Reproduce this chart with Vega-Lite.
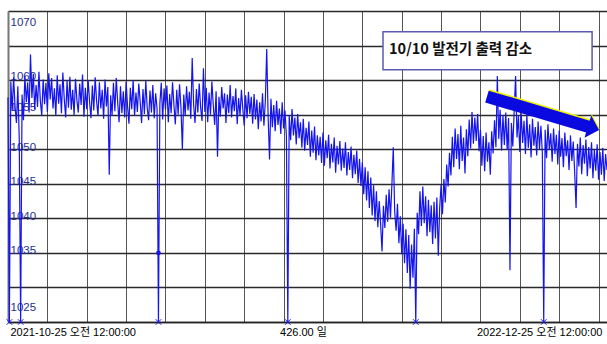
{
  "$schema": "https://vega.github.io/schema/vega-lite/v6.json",
  "width": 599,
  "height": 311,
  "autosize": {"type": "none"},
  "padding": {"left": 8, "top": 11, "right": 0, "bottom": 22},
  "background": "white",
  "config": {"view": {"stroke": null}},
  "datasets": {
    "series": [
      {"d":0,"v":1057.5},{"d":1,"v":1025},{"d":2,"v":1059.8},{"d":3,"v":1055.6},{"d":4,"v":1060.4},{"d":5,"v":1056.2},{"d":6,"v":1053.8},{"d":7,"v":1059.1},{"d":8,"v":1051.5},{"d":9,"v":1025},
      {"d":10,"v":1057.9},{"d":11,"v":1054.2},{"d":12,"v":1060.6},{"d":13,"v":1056.8},{"d":14,"v":1059.7},{"d":15,"v":1055.3},{"d":16,"v":1063.7},{"d":17,"v":1057.4},{"d":18,"v":1060.9},{"d":19,"v":1055.8},
      {"d":20,"v":1059.3},{"d":21,"v":1056.1},{"d":22,"v":1061.2},{"d":23,"v":1057.0},{"d":24,"v":1054.9},{"d":25,"v":1060.1},{"d":26,"v":1056.5},{"d":27,"v":1059.6},{"d":28,"v":1055.4},{"d":29,"v":1061.0},
      {"d":30,"v":1057.2},{"d":31,"v":1060.3},{"d":32,"v":1055.9},{"d":33,"v":1058.8},{"d":34,"v":1054.8},{"d":35,"v":1060.7},{"d":36,"v":1056.6},{"d":37,"v":1059.4},{"d":38,"v":1055.2},{"d":39,"v":1061.1},
      {"d":40,"v":1057.3},{"d":41,"v":1054.6},{"d":42,"v":1059.9},{"d":43,"v":1056.0},{"d":44,"v":1060.5},{"d":45,"v":1055.7},{"d":46,"v":1058.6},{"d":47,"v":1054.9},{"d":48,"v":1060.2},{"d":49,"v":1057.1},
      {"d":50,"v":1055.3},{"d":51,"v":1059.5},{"d":52,"v":1056.4},{"d":53,"v":1060.8},{"d":54,"v":1054.7},{"d":55,"v":1058.9},{"d":56,"v":1055.8},{"d":57,"v":1060.0},{"d":58,"v":1056.9},{"d":59,"v":1054.5},
      {"d":60,"v":1059.2},{"d":61,"v":1055.6},{"d":62,"v":1060.4},{"d":63,"v":1057.0},{"d":64,"v":1054.8},{"d":65,"v":1059.7},{"d":66,"v":1055.9},{"d":67,"v":1058.6},{"d":68,"v":1054.4},{"d":69,"v":1060.1},
      {"d":70,"v":1056.2},{"d":71,"v":1059.0},{"d":72,"v":1046.3},{"d":73,"v":1057.8},{"d":74,"v":1054.9},{"d":75,"v":1059.6},{"d":76,"v":1055.5},{"d":77,"v":1060.3},{"d":78,"v":1056.8},{"d":79,"v":1053.9},
      {"d":80,"v":1059.1},{"d":81,"v":1055.2},{"d":82,"v":1058.4},{"d":83,"v":1054.6},{"d":84,"v":1059.8},{"d":85,"v":1056.3},{"d":86,"v":1053.7},{"d":87,"v":1058.9},{"d":88,"v":1055.8},{"d":89,"v":1060.0},
      {"d":90,"v":1054.8},{"d":91,"v":1058.2},{"d":92,"v":1055.4},{"d":93,"v":1059.5},{"d":94,"v":1056.9},{"d":95,"v":1053.8},{"d":96,"v":1058.7},{"d":97,"v":1055.1},{"d":98,"v":1059.9},{"d":99,"v":1056.0},
      {"d":100,"v":1054.2},{"d":101,"v":1058.5},{"d":102,"v":1055.3},{"d":103,"v":1059.3},{"d":104,"v":1054.5},{"d":105,"v":1058.1},{"d":106,"v":1055.9},{"d":107,"v":1025},{"d":108,"v":1056.6},{"d":109,"v":1059.6},
      {"d":110,"v":1054.3},{"d":111,"v":1058.8},{"d":112,"v":1055.7},{"d":113,"v":1059.2},{"d":114,"v":1053.9},{"d":115,"v":1058.0},{"d":116,"v":1055.2},{"d":117,"v":1059.7},{"d":118,"v":1056.4},{"d":119,"v":1053.6},
      {"d":120,"v":1058.6},{"d":121,"v":1055.0},{"d":122,"v":1059.4},{"d":123,"v":1056.1},{"d":124,"v":1050.0},{"d":125,"v":1057.9},{"d":126,"v":1054.8},{"d":127,"v":1059.1},{"d":128,"v":1055.6},{"d":129,"v":1058.3},
      {"d":130,"v":1054.4},{"d":131,"v":1063.2},{"d":132,"v":1056.5},{"d":133,"v":1053.8},{"d":134,"v":1058.7},{"d":135,"v":1055.3},{"d":136,"v":1059.5},{"d":137,"v":1056.0},{"d":138,"v":1054.1},{"d":139,"v":1061.7},
      {"d":140,"v":1055.4},{"d":141,"v":1058.9},{"d":142,"v":1053.9},{"d":143,"v":1058.2},{"d":144,"v":1055.0},{"d":145,"v":1059.8},{"d":146,"v":1056.3},{"d":147,"v":1053.5},{"d":148,"v":1058.4},{"d":149,"v":1048.9},
      {"d":150,"v":1057.6},{"d":151,"v":1054.7},{"d":152,"v":1059.0},{"d":153,"v":1055.9},{"d":154,"v":1058.1},{"d":155,"v":1053.8},{"d":156,"v":1057.9},{"d":157,"v":1055.2},{"d":158,"v":1059.3},{"d":159,"v":1054.6},
      {"d":160,"v":1057.7},{"d":161,"v":1055.5},{"d":162,"v":1058.8},{"d":163,"v":1053.6},{"d":164,"v":1057.4},{"d":165,"v":1054.9},{"d":166,"v":1058.6},{"d":167,"v":1055.8},{"d":168,"v":1053.4},{"d":169,"v":1057.8},
      {"d":170,"v":1054.5},{"d":171,"v":1058.3},{"d":172,"v":1055.1},{"d":173,"v":1057.6},{"d":174,"v":1053.7},{"d":175,"v":1058.0},{"d":176,"v":1054.3},{"d":177,"v":1057.2},{"d":178,"v":1052.9},{"d":179,"v":1056.8},
      {"d":180,"v":1054.0},{"d":181,"v":1058.1},{"d":182,"v":1053.4},{"d":183,"v":1056.9},{"d":184,"v":1064.5},{"d":185,"v":1054.7},{"d":186,"v":1048.5},{"d":187,"v":1057.3},{"d":188,"v":1053.2},{"d":189,"v":1056.4},
      {"d":190,"v":1052.6},{"d":191,"v":1057.0},{"d":192,"v":1053.5},{"d":193,"v":1055.9},{"d":194,"v":1052.2},{"d":195,"v":1056.8},{"d":196,"v":1053.0},{"d":197,"v":1055.6},{"d":198,"v":1051.8},{"d":199,"v":1025},
      {"d":200,"v":1054.9},{"d":201,"v":1051.3},{"d":202,"v":1055.8},{"d":203,"v":1052.0},{"d":204,"v":1054.6},{"d":205,"v":1050.7},{"d":206,"v":1055.1},{"d":207,"v":1051.6},{"d":208,"v":1053.9},{"d":209,"v":1050.2},
      {"d":210,"v":1054.4},{"d":211,"v":1049.8},{"d":212,"v":1053.1},{"d":213,"v":1050.6},{"d":214,"v":1054.0},{"d":215,"v":1048.9},{"d":216,"v":1052.7},{"d":217,"v":1049.5},{"d":218,"v":1053.3},{"d":219,"v":1048.4},
      {"d":220,"v":1052.0},{"d":221,"v":1049.1},{"d":222,"v":1051.8},{"d":223,"v":1048.0},{"d":224,"v":1052.4},{"d":225,"v":1047.6},{"d":226,"v":1051.3},{"d":227,"v":1048.7},{"d":228,"v":1052.1},{"d":229,"v":1047.2},
      {"d":230,"v":1050.8},{"d":231,"v":1048.1},{"d":232,"v":1051.7},{"d":233,"v":1046.6},{"d":234,"v":1050.5},{"d":235,"v":1047.8},{"d":236,"v":1051.2},{"d":237,"v":1046.9},{"d":238,"v":1050.1},{"d":239,"v":1047.3},
      {"d":240,"v":1051.0},{"d":241,"v":1046.2},{"d":242,"v":1049.6},{"d":243,"v":1047.0},{"d":244,"v":1050.4},{"d":245,"v":1045.8},{"d":246,"v":1049.2},{"d":247,"v":1046.4},{"d":248,"v":1049.8},{"d":249,"v":1045.1},
      {"d":250,"v":1048.6},{"d":251,"v":1044.7},{"d":252,"v":1048.1},{"d":253,"v":1043.5},{"d":254,"v":1047.4},{"d":255,"v":1042.6},{"d":256,"v":1046.8},{"d":257,"v":1041.5},{"d":258,"v":1045.9},{"d":259,"v":1040.4},
      {"d":260,"v":1044.8},{"d":261,"v":1039.6},{"d":262,"v":1043.9},{"d":263,"v":1038.7},{"d":264,"v":1042.5},{"d":265,"v":1039.2},{"d":266,"v":1035.2},{"d":267,"v":1041.8},{"d":268,"v":1038.6},{"d":269,"v":1043.4},
      {"d":270,"v":1039.5},{"d":271,"v":1044.2},{"d":272,"v":1040.1},{"d":273,"v":1044.8},{"d":274,"v":1050.3},{"d":275,"v":1041.0},{"d":276,"v":1038.2},{"d":277,"v":1042.1},{"d":278,"v":1036.4},{"d":279,"v":1040.3},
      {"d":280,"v":1034.8},{"d":281,"v":1039.2},{"d":282,"v":1033.5},{"d":283,"v":1038.4},{"d":284,"v":1032.1},{"d":285,"v":1037.6},{"d":286,"v":1029.8},{"d":287,"v":1036.2},{"d":288,"v":1031.4},{"d":289,"v":1038.5},
      {"d":290,"v":1025},{"d":291,"v":1040.8},{"d":292,"v":1037.7},{"d":293,"v":1043.9},{"d":294,"v":1038.9},{"d":295,"v":1044.6},{"d":296,"v":1039.3},{"d":297,"v":1043.2},{"d":298,"v":1037.4},{"d":299,"v":1042.7},
      {"d":300,"v":1038.0},{"d":301,"v":1041.9},{"d":302,"v":1036.3},{"d":303,"v":1042.4},{"d":304,"v":1037.1},{"d":305,"v":1043.0},{"d":306,"v":1034.6},{"d":307,"v":1041.5},{"d":308,"v":1044.8},{"d":309,"v":1040.6},
      {"d":310,"v":1045.7},{"d":311,"v":1042.3},{"d":312,"v":1047.8},{"d":313,"v":1044.6},{"d":314,"v":1049.5},{"d":315,"v":1046.2},{"d":316,"v":1051.8},{"d":317,"v":1047.4},{"d":318,"v":1053.0},{"d":319,"v":1048.6},
      {"d":320,"v":1052.2},{"d":321,"v":1047.1},{"d":322,"v":1053.4},{"d":323,"v":1048.3},{"d":324,"v":1051.7},{"d":325,"v":1046.5},{"d":326,"v":1052.9},{"d":327,"v":1049.0},{"d":328,"v":1054.3},{"d":329,"v":1050.1},
      {"d":330,"v":1055.4},{"d":331,"v":1050.8},{"d":332,"v":1054.6},{"d":333,"v":1051.2},{"d":334,"v":1055.1},{"d":335,"v":1049.7},{"d":336,"v":1052.8},{"d":337,"v":1047.6},{"d":338,"v":1051.9},{"d":339,"v":1046.8},
      {"d":340,"v":1052.4},{"d":341,"v":1048.2},{"d":342,"v":1051.0},{"d":343,"v":1046.3},{"d":344,"v":1052.6},{"d":345,"v":1049.4},{"d":346,"v":1054.2},{"d":347,"v":1050.3},{"d":348,"v":1060.6},{"d":349,"v":1051.5},
      {"d":350,"v":1055.7},{"d":351,"v":1049.8},{"d":352,"v":1054.9},{"d":353,"v":1050.6},{"d":354,"v":1055.3},{"d":355,"v":1049.9},{"d":356,"v":1054.5},{"d":357,"v":1032.5},{"d":358,"v":1053.8},{"d":359,"v":1050.4},
      {"d":360,"v":1055.6},{"d":361,"v":1060.6},{"d":362,"v":1051.7},{"d":363,"v":1054.8},{"d":364,"v":1049.6},{"d":365,"v":1055.2},{"d":366,"v":1050.9},{"d":367,"v":1054.1},{"d":368,"v":1049.3},{"d":369,"v":1055.0},
      {"d":370,"v":1050.2},{"d":371,"v":1053.6},{"d":372,"v":1048.8},{"d":373,"v":1054.4},{"d":374,"v":1050.5},{"d":375,"v":1053.2},{"d":376,"v":1049.1},{"d":377,"v":1054.0},{"d":378,"v":1050.0},{"d":379,"v":1053.4},
      {"d":380,"v":1049.5},{"d":381,"v":1025},{"d":382,"v":1052.8},{"d":383,"v":1048.7},{"d":384,"v":1053.6},{"d":385,"v":1049.9},{"d":386,"v":1052.3},{"d":387,"v":1048.2},{"d":388,"v":1053.0},{"d":389,"v":1049.3},
      {"d":390,"v":1052.1},{"d":391,"v":1047.8},{"d":392,"v":1052.7},{"d":393,"v":1048.9},{"d":394,"v":1051.6},{"d":395,"v":1047.4},{"d":396,"v":1052.4},{"d":397,"v":1049.0},{"d":398,"v":1051.3},{"d":399,"v":1047.0},
      {"d":400,"v":1052.0},{"d":401,"v":1048.3},{"d":402,"v":1051.1},{"d":403,"v":1046.7},{"d":404,"v":1041.5},{"d":405,"v":1050.8},{"d":406,"v":1047.5},{"d":407,"v":1051.7},{"d":408,"v":1046.4},{"d":409,"v":1050.6},
      {"d":410,"v":1047.9},{"d":411,"v":1051.4},{"d":412,"v":1046.1},{"d":413,"v":1050.3},{"d":414,"v":1047.2},{"d":415,"v":1051.0},{"d":416,"v":1045.8},{"d":417,"v":1049.9},{"d":418,"v":1046.9},{"d":419,"v":1050.7},
      {"d":420,"v":1045.6},{"d":421,"v":1049.6},{"d":422,"v":1046.3},{"d":423,"v":1050.2},{"d":424,"v":1045.4},{"d":425,"v":1049.3},{"d":426,"v":1047.0}
    ],
    "xmarks": [
      {"d":1,"v":1025},{"d":9,"v":1025},{"d":107,"v":1025},{"d":199,"v":1025},{"d":290,"v":1025},{"d":381,"v":1025}
    ],
    "dots": [{"d":107,"v":1035}],
    "box": [{"d":266.7,"d2":415.4,"v":1067.0,"v2":1061.5}],
    "note": [{"d":271,"v":1064.3,"label":"10/10 발전기 출력 감소"}],
    "arrow": [{"d":380.5,"v":1055.2}]
  },
  "layer": [
    {
      "data": {"name": "series"},
      "mark": {"type": "line", "color": "#1414f0", "strokeWidth": 1.2, "interpolate": "linear"},
      "encoding": {
        "x": {
          "field": "d", "type": "quantitative",
          "scale": {"domain": [0, 426], "nice": false, "zero": false},
          "axis": {
            "title": null,
            "values": [0,28,56,84,112,140,168,196,224,252,280,308,336,364,392,420],
            "tickCount": 40,
            "grid": true, "gridColor": "#555555", "gridWidth": 1,
            "ticks": false,
            "domain": true, "domainColor": "#222222", "domainWidth": 1.5,
            "labelExpr": "datum.value == 0 ? '2021-10-25 오전 12:00:00' : datum.value == 196 ? '426.00 일' : datum.value == 336 ? '2022-12-25 오전 12:00:00' : ''",
            "labelAlign": "left",
            "labelFlush": false,
            "labelOverlap": false,
            "labelBound": false,
            "labelBaseline": "top",
            "labelPadding": 4,
            "labelOffset": {"condition": {"test": "datum.value == 0", "value": 2}, "value": -4},
            "labelFont": "Liberation Sans, Noto Sans CJK KR, sans-serif",
            "labelFontSize": 11,
            "labelColor": "#000000",
            "zindex": 0
          }
        },
        "y": {
          "field": "v", "type": "quantitative",
          "scale": {"domain": [1025, 1070], "nice": false, "zero": false},
          "axis": {
            "title": null,
            "values": [1025,1030,1035,1040,1045,1050,1055,1060,1065,1070],
            "tickCount": 40,
            "format": "d",
            "grid": true, "gridColor": "#2a2a2a", "gridWidth": 1.5,
            "ticks": false,
            "domain": true, "domainColor": "#777777", "domainWidth": 2,
            "labelExpr": "datum.value == 1065 || datum.value == 1030 ? '' : datum.label",
            "labelAlign": "left",
            "labelBaseline": "middle",
            "labelPadding": -2,
            "labelFlush": false,
            "labelOverlap": false,
            "labelBound": false,
            "labelOffset": {"condition": [
              {"test": "datum.value == 1070", "value": 11},
              {"test": "datum.value == 1025", "value": -15},
              {"test": "datum.value == 1055", "value": -7},
              {"test": "datum.value == 1060", "value": -4}
            ], "value": -2},
            "labelFont": "Liberation Sans, sans-serif",
            "labelFontSize": 11.5,
            "labelColor": "#1f2d8f",
            "zindex": 0
          }
        }
      }
    },
    {
      "data": {"name": "xmarks"},
      "mark": {"type": "point", "shape": "M-1,-1L1,1M-1,1L1,-1", "filled": false, "stroke": "#1414f0", "strokeWidth": 1, "size": 30, "opacity": 1},
      "encoding": {
        "x": {"field": "d", "type": "quantitative"},
        "y": {"field": "v", "type": "quantitative"}
      }
    },
    {
      "data": {"name": "dots"},
      "mark": {"type": "point", "shape": "circle", "filled": true, "color": "#1414f0", "size": 22, "opacity": 1},
      "encoding": {
        "x": {"field": "d", "type": "quantitative"},
        "y": {"field": "v", "type": "quantitative"}
      }
    },
    {
      "data": {"name": "box"},
      "mark": {"type": "rect", "fill": "white", "stroke": "#5a5ab0", "strokeWidth": 1.5},
      "encoding": {
        "x": {"field": "d", "type": "quantitative"},
        "x2": {"field": "d2"},
        "y": {"field": "v", "type": "quantitative"},
        "y2": {"field": "v2"}
      }
    },
    {
      "data": {"name": "note"},
      "mark": {"type": "text", "align": "left", "baseline": "middle", "font": "Noto Sans CJK KR", "fontWeight": "bold", "fontSize": 14.5, "color": "#111111"},
      "encoding": {
        "x": {"field": "d", "type": "quantitative"},
        "y": {"field": "v", "type": "quantitative"},
        "text": {"field": "label"}
      }
    },
    {
      "data": {"name": "arrow"},
      "mark": {"type": "point", "shape": "M-1,-0.106L0.8,-0.106L0.8,-0.2L1,0L0.8,0.2L0.8,0.106L-1,0.106Z", "filled": true, "fill": "#f2f200", "stroke": null, "size": 13689, "angle": 16.6, "opacity": 1, "yOffset": -1.5, "xOffset": 0.5},
      "encoding": {
        "x": {"field": "d", "type": "quantitative"},
        "y": {"field": "v", "type": "quantitative"}
      }
    },
    {
      "data": {"name": "arrow"},
      "mark": {"type": "point", "shape": "M-1,-0.106L0.8,-0.106L0.8,-0.2L1,0L0.8,0.2L0.8,0.106L-1,0.106Z", "filled": true, "fill": "#0a0ae0", "stroke": null, "size": 13689, "angle": 16.6, "opacity": 1},
      "encoding": {
        "x": {"field": "d", "type": "quantitative"},
        "y": {"field": "v", "type": "quantitative"}
      }
    }
  ]
}
